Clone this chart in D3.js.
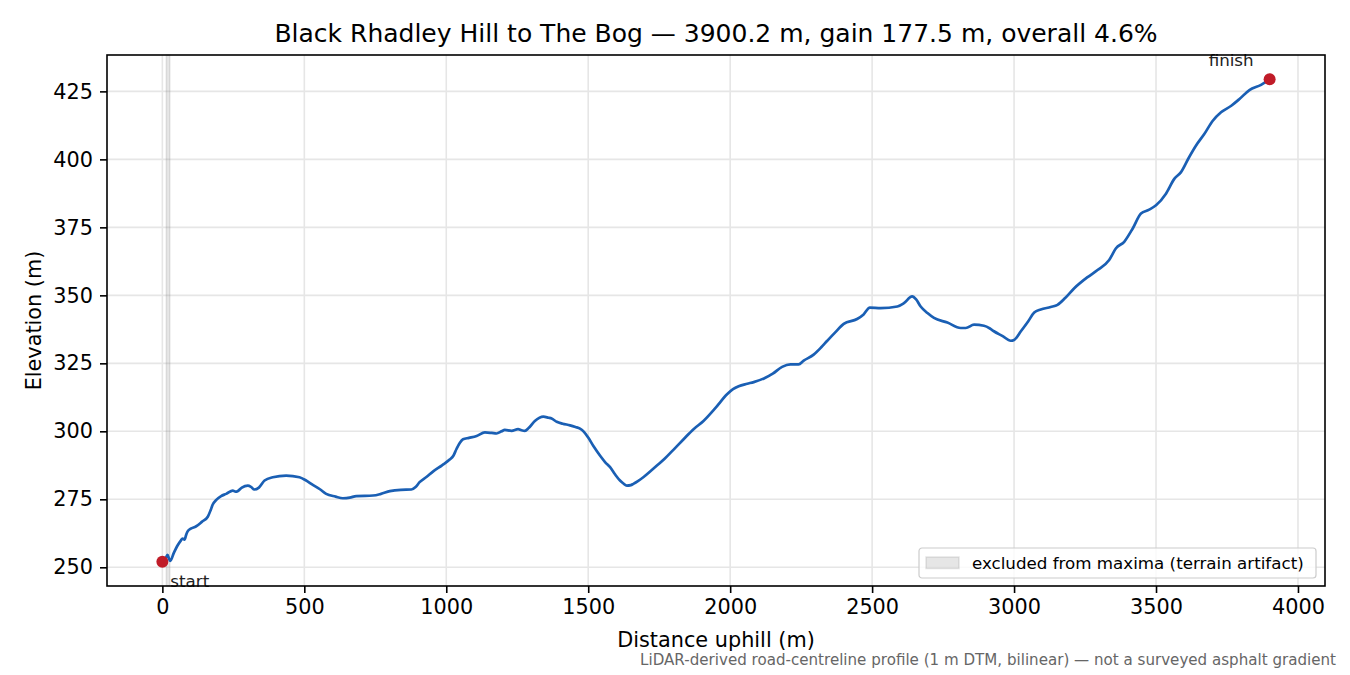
<!DOCTYPE html>
<html>
<head>
<meta charset="utf-8">
<script src="https://cdn.jsdelivr.net/npm/d3@7"></script>
<style>
  body { margin: 0; background: #ffffff; }
  text { font-family: "DejaVu Sans", sans-serif; }
</style>
</head>
<body>
<div id="chart"></div>
<script>
// Profile samples (distance in m, elevation in m)
var distance = [0, 12, 18, 24, 28, 40, 54, 65, 71, 78, 84, 89, 100, 118, 140, 160, 170, 177, 190, 207,
  225, 248, 258, 265, 280, 301, 312, 324, 340, 360, 389, 436, 483, 505, 530, 555, 577, 610, 636, 660,
  683, 742, 770, 801, 840, 877, 892, 906, 930, 953, 985, 1012, 1025, 1036, 1048, 1059, 1080, 1107, 1136, 1160,
  1177, 1195, 1206, 1230, 1253, 1265, 1277, 1290, 1312, 1342, 1360, 1371, 1389, 1410, 1436, 1455, 1471, 1485, 1500, 1520,
  1542, 1560, 1577, 1595, 1612, 1624, 1636, 1650, 1659, 1675, 1694, 1720, 1742, 1770, 1800, 1836, 1871, 1906, 1950, 1989,
  2010, 2030, 2060, 2083, 2124, 2150, 2183, 2212, 2241, 2259, 2294, 2320, 2342, 2370, 2400, 2447, 2470, 2492, 2530, 2589,
  2612, 2641, 2655, 2671, 2695, 2718, 2765, 2812, 2830, 2859, 2894, 2915, 2929, 2960, 2988, 3000, 3024, 3050, 3071, 3094,
  3129, 3153, 3180, 3212, 3259, 3294, 3335, 3359, 3388, 3418, 3447, 3476, 3500, 3535, 3565, 3588, 3615, 3641, 3670, 3700,
  3729, 3765, 3794, 3829, 3870, 3900.2];
var elevation = [252.0, 253.4, 254.6, 253.0, 252.4, 255.2, 258.1, 259.8, 260.6, 260.2, 262.0, 263.2, 264.2, 265.0, 266.8, 268.6, 271.0, 273.0, 274.8, 276.2,
  277.0, 278.2, 277.8, 278.0, 279.3, 280.0, 279.6, 278.6, 279.3, 281.9, 283.1, 283.7, 283.1, 282.0, 280.3, 278.7, 277.0, 276.0, 275.4, 275.6,
  276.2, 276.4, 277.0, 278.0, 278.5, 278.6, 279.5, 281.3, 283.2, 285.2, 287.5, 289.6, 291.0, 293.5, 295.8, 297.1, 297.6, 298.3, 299.6, 299.4,
  299.2, 300.0, 300.5, 300.2, 300.8, 300.4, 300.2, 301.2, 303.8, 305.4, 305.0, 304.7, 303.5, 302.8, 302.2, 301.6, 301.0, 299.8, 297.7, 294.3,
  291.0, 288.6, 286.8, 284.1, 281.9, 280.8, 280.0, 280.2, 280.7, 281.7, 283.1, 285.4, 287.4, 290.0, 293.2, 297.1, 300.8, 303.8, 308.8, 313.6,
  315.5, 316.6, 317.5, 318.1, 319.7, 321.2, 323.7, 324.6, 324.6, 326.0, 328.2, 330.8, 333.3, 336.4, 339.5, 341.3, 343.0, 345.5, 345.3, 345.9,
  347.1, 349.6, 348.5, 345.9, 343.5, 341.7, 340.0, 338.0, 338.0, 339.2, 338.8, 337.8, 336.8, 335.0, 333.3, 333.6, 336.8, 340.5, 343.7, 344.8,
  345.7, 346.5, 349.0, 352.6, 356.7, 359.3, 363.0, 367.3, 369.7, 374.6, 380.1, 381.5, 383.1, 387.4, 392.9, 395.3, 400.5, 405.1, 409.3, 414.2,
  417.3, 419.7, 422.2, 425.5, 427.4, 429.5];

// Excluded stretch (terrain artifact) in metres
var excluded = [14, 26];

var xTicks = [0, 500, 1000, 1500, 2000, 2500, 3000, 3500, 4000];
var yTicks = [250, 275, 300, 325, 350, 375, 400, 425];

var titleText = "Black Rhadley Hill to The Bog \u2014 3900.2 m, gain 177.5 m, overall 4.6%";
var footerText = "LiDAR-derived road-centreline profile (1 m DTM, bilinear) \u2014 not a surveyed asphalt gradient";

var Blue = "#1a5fb4";
var Red = "#c01c28";

var W = 1350, H = 675;
var margin = { top: 55, right: 25, bottom: 89, left: 107 };
var width = W - margin.left - margin.right;
var height = H - margin.top - margin.bottom;

var data = distance.map(function (d, i) {
  return { d: d, e: elevation[i] };
});

var svg = d3
  .select("#chart")
  .append("svg")
  .attr("width", W)
  .attr("height", H);

var g = svg
  .append("g")
  .attr("transform", "translate(" + margin.left + "," + margin.top + ")");

// Scales with matplotlib-like 5% padding
var dMax = d3.max(distance);
var eMin = d3.min(elevation), eMax = d3.max(elevation);
var x = d3.scaleLinear().domain([-0.05 * dMax, dMax * 1.05]).range([0, width]);
var y = d3
  .scaleLinear()
  .domain([eMin - 0.05 * (eMax - eMin), eMax + 0.05 * (eMax - eMin)])
  .range([height, 0]);

// Grid
g.append("g")
  .selectAll("line")
  .data(xTicks)
  .enter()
  .append("line")
  .attr("x1", function (d) { return x(d); })
  .attr("x2", function (d) { return x(d); })
  .attr("y1", 0)
  .attr("y2", height)
  .attr("stroke", "#e6e6e6")
  .attr("stroke-width", 1.6);

g.append("g")
  .selectAll("line")
  .data(yTicks)
  .enter()
  .append("line")
  .attr("x1", 0)
  .attr("x2", width)
  .attr("y1", function (d) { return y(d); })
  .attr("y2", function (d) { return y(d); })
  .attr("stroke", "#e6e6e6")
  .attr("stroke-width", 1.6);

// Excluded band
g.append("rect")
  .attr("x", x(excluded[0]))
  .attr("y", 0)
  .attr("width", x(excluded[1]) - x(excluded[0]))
  .attr("height", height)
  .attr("fill", "#808080")
  .attr("fill-opacity", 0.2)
  .attr("stroke", "#808080")
  .attr("stroke-opacity", 0.2)
  .attr("stroke-width", 1.5);

// Profile line
var line = d3
  .line()
  .x(function (d) { return x(d.d); })
  .y(function (d) { return y(d.e); })
  .curve(d3.curveMonotoneX);

g.append("path")
  .datum(data)
  .attr("fill", "none")
  .attr("stroke", Blue)
  .attr("stroke-width", 2.7)
  .attr("stroke-linejoin", "round")
  .attr("d", line);

// Start / finish markers
var ends = [data[0], data[data.length - 1]];
g.selectAll(".end-dot")
  .data(ends)
  .enter()
  .append("circle")
  .attr("class", "end-dot")
  .attr("cx", function (d) { return x(d.d); })
  .attr("cy", function (d) { return y(d.e); })
  .attr("r", 6)
  .attr("fill", Red);

g.append("text")
  .attr("x", x(ends[0].d) + 8)
  .attr("y", y(ends[0].e) + 25)
  .style("font-size", "16.7px")
  .attr("fill", "#222")
  .text("start");

g.append("text")
  .attr("x", x(ends[1].d) - 16)
  .attr("y", y(ends[1].e) - 13)
  .attr("text-anchor", "end")
  .style("font-size", "16.7px")
  .attr("fill", "#222")
  .text("finish");

// Axes
var xAxis = g
  .append("g")
  .attr("transform", "translate(0," + height + ")")
  .call(d3.axisBottom(x).tickValues(xTicks).tickSize(7).tickPadding(6).tickFormat(d3.format("d")));

var yAxis = g
  .append("g")
  .call(d3.axisLeft(y).tickValues(yTicks).tickSize(7).tickPadding(7).tickFormat(d3.format("d")));

[xAxis, yAxis].forEach(function (ax) {
  ax.select(".domain").remove();
  ax.selectAll("line").attr("stroke", "#000").attr("stroke-width", 1.6);
  ax.selectAll("text")
    .style("font-family", "DejaVu Sans")
    .style("font-size", "20.8px")
    .attr("fill", "#000");
});

// Frame
g.append("rect")
  .attr("x", 0)
  .attr("y", 0)
  .attr("width", width)
  .attr("height", height)
  .attr("fill", "none")
  .attr("stroke", "#000")
  .attr("stroke-width", 1.6);

// Legend
var legend = g.append("g").attr("transform", "translate(" + (width - 406) + "," + (height - 38) + ")");
legend
  .append("rect")
  .attr("width", 397)
  .attr("height", 30)
  .attr("rx", 3)
  .attr("fill", "#fff")
  .attr("fill-opacity", 0.8)
  .attr("stroke", "#cccccc")
  .attr("stroke-width", 1.2);
legend
  .append("rect")
  .attr("x", 7)
  .attr("y", 9)
  .attr("width", 33)
  .attr("height", 11.5)
  .attr("fill", "#808080")
  .attr("fill-opacity", 0.2)
  .attr("stroke", "#808080")
  .attr("stroke-opacity", 0.2)
  .attr("stroke-width", 1.5);
legend
  .append("text")
  .attr("x", 53)
  .attr("y", 20.5)
  .style("font-size", "16.7px")
  .attr("fill", "#000")
  .text("excluded from maxima (terrain artifact)");

// Title, axis labels, footer
svg.append("text")
  .attr("x", margin.left + width / 2)
  .attr("y", 42)
  .attr("text-anchor", "middle")
  .style("font-size", "25px")
  .text(titleText);

svg.append("text")
  .attr("x", margin.left + width / 2)
  .attr("y", 647)
  .attr("text-anchor", "middle")
  .style("font-size", "20.8px")
  .text("Distance uphill (m)");

svg.append("text")
  .attr("transform", "rotate(-90)")
  .attr("x", -(margin.top + height / 2))
  .attr("y", 41)
  .attr("text-anchor", "middle")
  .style("font-size", "20.8px")
  .text("Elevation (m)");

svg.append("text")
  .attr("x", 1336)
  .attr("y", 665)
  .attr("text-anchor", "end")
  .style("font-size", "15.1px")
  .attr("fill", "#666666")
  .text(footerText);
</script>
</body>
</html>
